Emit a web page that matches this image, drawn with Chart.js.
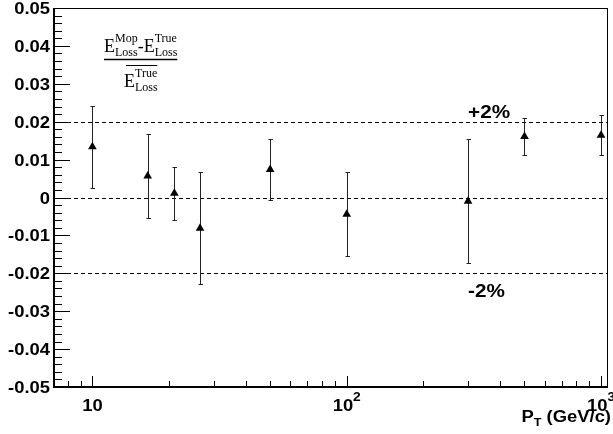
<!DOCTYPE html>
<html>
<head>
<meta charset="utf-8">
<script src="https://cdn.jsdelivr.net/npm/chart.js@4.4.0/dist/chart.umd.min.js"></script>
<style>
    html, body { margin: 0; padding: 0; background: #fff; }
    #wrap { width: 613px; height: 434px; position: relative; }
</style>
</head>
<body>
<div id="wrap"><canvas id="residualChart"></canvas></div>
<script>
// pT points and the relative energy loss residual with its error
const ptValues = [10, 16.5, 21, 26.5, 50, 100, 300, 500, 1000];
const residuals = [0.0134, 0.0057, 0.0011, -0.0081, 0.0074, -0.0044, -0.0010, 0.0161, 0.0164];
const residualErrors = [0.0108, 0.0111, 0.0070, 0.0147, 0.0080, 0.0111, 0.0164, 0.0048, 0.0053];

// reference lines and their labels
const refLines = [0.02, 0, -0.02];
const refLabels = ['+2%', '', '-2%'];

// axis labels
const yTickValues = [0.05, 0.04, 0.03, 0.02, 0.01, 0, -0.01, -0.02, -0.03, -0.04, -0.05];
const yTickLabels = ['0.05', '0.04', '0.03', '0.02', '0.01', '0', '-0.01', '-0.02', '-0.03', '-0.04', '-0.05'];
const xTickValues = [10, 100, 1000];
const xTickExponents = ['', '2', '3'];

const SANS = '"Liberation Sans", Arial, Helvetica, sans-serif';
const SERIF = '"Liberation Serif", "Times New Roman", serif';

// draw text stretched horizontally, returns drawn width
function drawText(ctx, text, x, y, font, align, stretch = 1.15) {
    ctx.save();
    ctx.font = font;
    const w = ctx.measureText(text).width * stretch;
    let x0 = x;
    if (align === 'right') x0 = x - w;
    else if (align === 'center') x0 = x - w / 2;
    ctx.translate(x0, y);
    ctx.scale(stretch, 1);
    ctx.textAlign = 'left';
    ctx.textBaseline = 'alphabetic';
    ctx.fillStyle = '#000';
    ctx.fillText(text, 0, 0);
    ctx.restore();
    return w;
}

function textWidth(ctx, text, font, stretch = 1.15) {
    ctx.save();
    ctx.font = font;
    const w = ctx.measureText(text).width * stretch;
    ctx.restore();
    return w;
}

// E^{sup}_{sub} block in serif, returns end x
function drawEnergy(ctx, x, base, sup, sub) {
    const big = '18px ' + SERIF;
    const small = '12px ' + SERIF;
    const cx = x + drawText(ctx, 'E', x, base, big, 'left', 1);
    const w1 = drawText(ctx, sup, cx, base - 10, small, 'left', 1);
    const w2 = drawText(ctx, sub, cx, base + 4, small, 'left', 1);
    return cx + Math.max(w1, w2);
}

const framePlugin = {
    id: 'frame',
    beforeDatasetsDraw(chart) {
        const ctx = chart.ctx;
        const { left, right, top, bottom } = chart.chartArea;
        const xs = chart.scales.x;
        const ys = chart.scales.y;

        ctx.save();
        // dashed reference lines
        ctx.strokeStyle = '#000';
        ctx.lineWidth = 1;
        ctx.setLineDash([4, 3]);
        refLines.forEach(v => {
            const y = Math.round(ys.getPixelForValue(v)) + 0.5;
            ctx.beginPath();
            ctx.moveTo(left, y);
            ctx.lineTo(right, y);
            ctx.stroke();
        });
        ctx.setLineDash([]);

        // error bars
        ctx.strokeStyle = '#222';
        ptValues.forEach((pt, i) => {
            const x = Math.round(xs.getPixelForValue(pt)) + 0.5;
            const yHi = Math.round(ys.getPixelForValue(residuals[i] + residualErrors[i])) + 0.5;
            const yLo = Math.round(ys.getPixelForValue(residuals[i] - residualErrors[i])) + 0.5;
            ctx.beginPath();
            ctx.moveTo(x, yHi);
            ctx.lineTo(x, yLo);
            ctx.moveTo(x - 2, yHi);
            ctx.lineTo(x + 2.5, yHi);
            ctx.moveTo(x - 2, yLo);
            ctx.lineTo(x + 2.5, yLo);
            ctx.stroke();
        });

        // frame
        ctx.strokeStyle = '#000';
        ctx.lineWidth = 1;
        ctx.strokeRect(left + 0.5, top + 0.5, right - left - 1, bottom - top - 1);
        ctx.lineWidth = 2;
        ctx.beginPath();
        ctx.moveTo(left + 1, top);
        ctx.lineTo(left + 1, bottom);
        ctx.lineTo(right, bottom);
        ctx.stroke();

        // y ticks, major every 0.01 and minor every 0.002
        ctx.lineWidth = 1;
        ctx.beginPath();
        for (let k = -25; k <= 25; k++) {
            const y = Math.round(ys.getPixelForValue(k * 0.002)) + 0.5;
            const len = k % 5 === 0 ? 17 : 9;
            ctx.moveTo(left, y);
            ctx.lineTo(left + len, y);
        }
        // x ticks on the log axis
        for (let dec = 1; dec <= 1000; dec *= 10) {
            for (let m = 1; m <= 9; m++) {
                const v = dec * m;
                if (v < xs.min || v > xs.max) continue;
                const x = Math.round(xs.getPixelForValue(v)) + 0.5;
                const len = m === 1 ? 11 : 6;
                ctx.moveTo(x, bottom);
                ctx.lineTo(x, bottom - len);
            }
        }
        ctx.stroke();
        ctx.restore();
    },
    afterDraw(chart) {
        const ctx = chart.ctx;
        const { left, right, bottom } = chart.chartArea;
        const xs = chart.scales.x;
        const ys = chart.scales.y;
        const tickFont = 'bold 16px ' + SANS;

        // y tick labels
        yTickValues.forEach((v, i) => {
            const y = ys.getPixelForValue(v) + 6;
            drawText(ctx, yTickLabels[i], left - 3, y, tickFont, 'right');
        });

        // x tick labels with powers of ten
        xTickValues.forEach((v, i) => {
            const x = xs.getPixelForValue(v);
            const exp = xTickExponents[i];
            const supFont = 'bold 12px ' + SANS;
            const wBase = textWidth(ctx, '10', tickFont);
            const wExp = exp ? textWidth(ctx, exp, supFont) : 0;
            const x0 = x - (wBase + wExp) / 2;
            drawText(ctx, '10', x0, bottom + 24, tickFont, 'left');
            if (exp) drawText(ctx, exp, x0 + wBase, bottom + 14, supFont, 'left');
        });

        // x axis title P_T (GeV/c), right aligned
        const titleFont = 'bold 16px ' + SANS;
        const subFont = 'bold 11px ' + SANS;
        const rest = ' (GeV/c)';
        const total = textWidth(ctx, 'P', titleFont) + textWidth(ctx, 'T', subFont) + textWidth(ctx, rest, titleFont);
        let tx = right + 3 - total;
        tx += drawText(ctx, 'P', tx, bottom + 35, titleFont, 'left');
        tx += drawText(ctx, 'T', tx, bottom + 39, subFont, 'left');
        drawText(ctx, rest, tx, bottom + 35, titleFont, 'left');

        // reference line labels
        const refFont = 'bold 18px ' + SANS;
        refLines.forEach((v, i) => {
            if (!refLabels[i]) return;
            const y = ys.getPixelForValue(v);
            const x = xs.getPixelForValue(300);
            const yy = v > 0 ? y - 4 : y + 24;
            drawText(ctx, refLabels[i], x, yy, refFont, 'left');
        });

        // (E_mop - E_true) / E_true
        ctx.save();
        let nx = drawEnergy(ctx, 104, 52, 'Mop', 'Loss');
        nx += drawText(ctx, '-', nx, 52, '18px ' + SERIF, 'left', 1);
        const numEnd = drawEnergy(ctx, nx, 52, 'True', 'Loss');
        ctx.strokeStyle = '#000';
        ctx.lineWidth = 1.5;
        ctx.beginPath();
        ctx.moveTo(104, 59.5);
        ctx.lineTo(numEnd, 59.5);
        ctx.stroke();
        const mid = (104 + numEnd) / 2;
        const denW = textWidth(ctx, 'E', '18px ' + SERIF, 1) + textWidth(ctx, 'True', '12px ' + SERIF, 1);
        const dx = mid - denW / 2;
        ctx.lineWidth = 1;
        ctx.beginPath();
        ctx.moveTo(dx + 2, 65.5);
        ctx.lineTo(dx + denW, 65.5);
        ctx.stroke();
        drawEnergy(ctx, dx, 87, 'True', 'Loss');
        ctx.restore();
    }
};

const points = ptValues.map((pt, i) => ({ x: pt, y: residuals[i] }));

new Chart(document.getElementById('residualChart'), {
    type: 'scatter',
    data: {
        datasets: [{
            data: points,
            pointStyle: 'triangle',
            pointRadius: 5,
            pointHoverRadius: 5,
            backgroundColor: '#000',
            borderColor: '#000',
            borderWidth: 0
        }]
    },
    options: {
        responsive: true,
        maintainAspectRatio: false,
        animation: false,
        devicePixelRatio: 1,
        layout: { padding: { left: 53, right: 4, top: 8, bottom: 47 } },
        plugins: { legend: { display: false }, tooltip: { enabled: false } },
        scales: {
            x: { type: 'logarithmic', min: 7, max: 1065, display: false },
            y: { type: 'linear', min: -0.05, max: 0.05, display: false }
        }
    },
    plugins: [framePlugin]
});
</script>
</body>
</html>
